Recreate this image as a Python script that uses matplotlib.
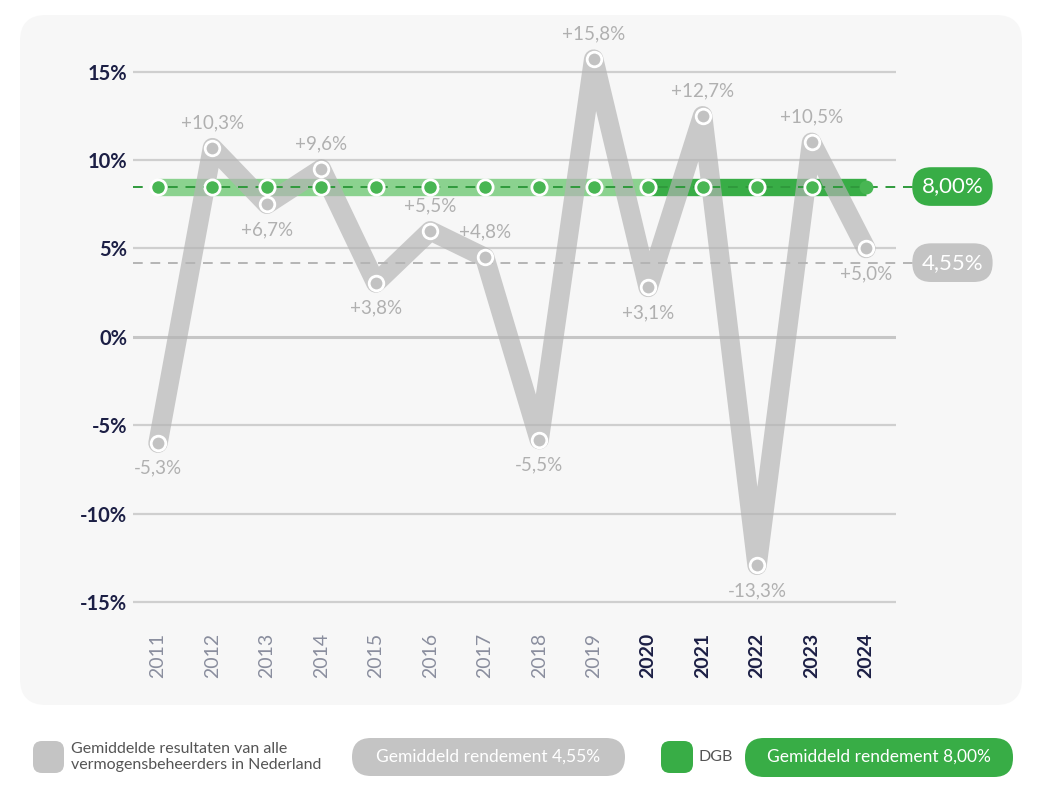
import matplotlib
matplotlib.use("Agg")
import matplotlib.pyplot as plt
from matplotlib.patches import FancyBboxPatch
import matplotlib.transforms as mtransforms

plt.rcParams["font.family"] = ["Lato", "DejaVu Sans"]

# data
years = [2011, 2012, 2013, 2014, 2015, 2016, 2017, 2018, 2019, 2020, 2021, 2022, 2023, 2024]
returns = [-6.0, 10.7, 7.5, 9.5, 3.05, 6.0, 4.5, -5.8, 15.7, 2.8, 12.5, -12.9, 11.0, 5.0]
return_labels = ["-5,3%", "+10,3%", "+6,7%", "+9,6%", "+3,8%", "+5,5%", "+4,8%",
                 "-5,5%", "+15,8%", "+3,1%", "+12,7%", "-13,3%", "+10,5%", "+5,0%"]
label_above = [False, True, False, True, False, True, True,
               False, True, False, True, False, True, False]
dgb_level = 8.5
dgb_text = "8,00%"
dgb_start = 2020
avg_level = 4.2
avg_text = "4,55%"
yticks = [15, 10, 5, 0, -5, -10, -15]
ytick_labels = ["15%", "10%", "5%", "0%", "-5%", "-10%", "-15%"]
legend_grey = "Gemiddelde resultaten van alle\nvermogensbeheerders in Nederland"
legend_grey_pill = "Gemiddeld rendement 4,55%"
legend_green = "DGB"
legend_green_pill = "Gemiddeld rendement 8,00%"

NAVY = "#1c1f45"
GREY_LINE = "#b4b4b4"
GREY_TXT = "#b0b0b0"
GREY_PILL = "#c4c4c4"
GREEN = "#38ad46"
GREEN_LIGHT = "#8bd28f"
GREEN_MARK = "#48b653"

fig = plt.figure(figsize=(10.4, 8), dpi=100)
fig.patch.set_facecolor("white")

# background layer in pixel units
bg = fig.add_axes([0, 0, 1, 1])
bg.set_xlim(0, 1040)
bg.set_ylim(800, 0)
bg.axis("off")
bg.add_patch(FancyBboxPatch((20, 15), 1002, 690, boxstyle="round,pad=0,rounding_size=26",
                            fc="#f7f7f7", ec="none"))

ax = fig.add_axes([133 / 1040, 180 / 800, 763 / 1040, 580 / 800])
ax.patch.set_alpha(0)
ax.set_xlim(2010.541, 2024.551)
ax.set_ylim(-15.99, 16.78)
for s in ax.spines.values():
    s.set_visible(False)

for t in yticks:
    ax.axhline(t, color="#cfcfcf" if t else "#c6c6c6", lw=1.6 if t else 2.2, zorder=0)

ax.set_yticks(yticks)
ax.set_yticklabels(ytick_labels, fontsize=14.5, fontweight="bold", color=NAVY)
ax.set_xticks(years)
ax.set_xticklabels([str(y) for y in years], rotation=90, fontsize=14)
for lbl, y in zip(ax.get_xticklabels(), years):
    if y >= dgb_start:
        lbl.set_color(NAVY)
        lbl.set_fontweight("bold")
    else:
        lbl.set_color("#8a8e9e")
ax.tick_params(length=0)
ax.tick_params(axis="y", pad=4)
ax.tick_params(axis="x", pad=9)

# average lines
ax.plot([2010.541, 2025.3], [avg_level] * 2, color="#b5b5b5", lw=1.4, ls=(0, (5, 4)),
        clip_on=False, zorder=1)

i0 = years.index(dgb_start)
ax.plot(years[:i0 + 1], [dgb_level] * (i0 + 1), color=GREEN_LIGHT, lw=12.5,
        solid_capstyle="butt", zorder=2)
ax.plot(years[i0:], [dgb_level] * (len(years) - i0), color=GREEN, lw=12.5,
        solid_capstyle="butt", zorder=2)

ax.plot(years, returns, color=GREY_LINE, lw=14, alpha=0.68, solid_joinstyle="round",
        solid_capstyle="round", zorder=3)

ax.plot([2010.541, 2025.3], [dgb_level] * 2, color="#2f9a3c", lw=1.4, ls=(0, (5, 4)),
        clip_on=False, zorder=4)

ax.plot(years, returns, ls="none", marker="o", ms=10.5, mfc="#c2c2c2", mec="white",
        mew=2, zorder=5)
ax.plot(years[:-1], [dgb_level] * (len(years) - 1), ls="none", marker="o", ms=11,
        mfc=GREEN_MARK, mec="white", mew=2, zorder=6)
ax.plot(years[-1:], [dgb_level], ls="none", marker="o", ms=10, mfc=GREEN_MARK,
        mec="none", zorder=6)

for x, v, txt, up in zip(years, returns, return_labels, label_above):
    ax.annotate(txt, (x, v), xytext=(0, 12 if up else -12), textcoords="offset points",
                ha="center", va="bottom" if up else "top", fontsize=13.5,
                color=GREY_TXT, zorder=7, annotation_clip=False)

# value pills on the right
trans = mtransforms.blended_transform_factory(ax.transAxes, ax.transData)
ax.text(1.074, dgb_level, dgb_text, transform=trans, ha="center", va="center",
        fontsize=16, color="white", clip_on=False, zorder=8,
        bbox=dict(boxstyle="round,pad=0.42,rounding_size=0.85", fc=GREEN, ec="none"))
ax.text(1.074, avg_level, avg_text, transform=trans, ha="center", va="center",
        fontsize=16, color="white", clip_on=False, zorder=8,
        bbox=dict(boxstyle="round,pad=0.42,rounding_size=0.85", fc=GREY_PILL, ec="none"))

# legend
bg.add_patch(FancyBboxPatch((33, 741), 31, 32, boxstyle="round,pad=0,rounding_size=9",
                            fc=GREY_PILL, ec="none"))
bg.text(71, 757, legend_grey, ha="left", va="center", fontsize=11.5, color="#555555",
        linespacing=1.15)
bg.add_patch(FancyBboxPatch((352, 738), 273, 38, boxstyle="round,pad=0,rounding_size=19",
                            fc=GREY_PILL, ec="none"))
bg.text(488, 757, legend_grey_pill, ha="center", va="center", fontsize=12.5, color="white")
bg.add_patch(FancyBboxPatch((661, 741), 32, 32, boxstyle="round,pad=0,rounding_size=9",
                            fc=GREEN, ec="none"))
bg.text(698, 757, legend_green, ha="left", va="center", fontsize=11.5, color="#555555")
bg.add_patch(FancyBboxPatch((745, 738), 268, 39, boxstyle="round,pad=0,rounding_size=19",
                            fc=GREEN, ec="none"))
bg.text(879, 757, legend_green_pill, ha="center", va="center", fontsize=12.5, color="white")

fig.savefig("out.png", dpi=100, facecolor="white")
